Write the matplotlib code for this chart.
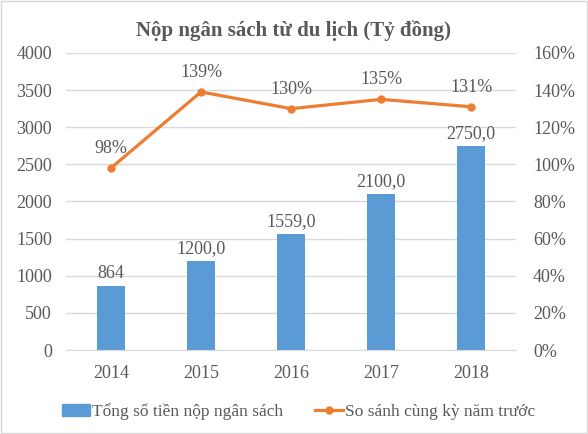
import matplotlib.pyplot as plt
from matplotlib.ticker import PercentFormatter

plt.rcParams['font.family'] = ['Liberation Serif', 'DejaVu Serif']

years = ['2014', '2015', '2016', '2017', '2018']
tong_tien = [864, 1200, 1559, 2100, 2750]
bar_labels = ['864', '1200,0', '1559,0', '2100,0', '2750,0']
so_sanh = [98, 139, 130, 135, 131]

text_col = '#595959'
blue = '#5B9BD5'
orange = '#ED7D31'

fig = plt.figure(figsize=(5.88, 4.34), dpi=100)
ax = fig.add_axes([0.112, 0.1935, 0.766, 0.6845])
ax2 = ax.twinx()

x = range(len(years))
bars = ax.bar(x, tong_tien, width=0.31, color=blue, zorder=2)
ax.bar_label(bars, labels=bar_labels, padding=3, fontsize=13, color=text_col)

ax2.plot(x, so_sanh, color=orange, lw=2.3, marker='o', ms=5, zorder=3)
for i, v in enumerate(so_sanh):
    ax2.annotate(f'{v}%', (i, v), xytext=(0, 8), textcoords='offset points',
                 ha='center', va='bottom', fontsize=13, color=text_col)

ax.set_xlim(-0.5, 4.5)
ax.set_ylim(0, 4000)
ax.set_yticks(range(0, 4001, 500))
ax2.set_ylim(0, 160)
ax2.set_yticks(range(0, 161, 20))
ax2.yaxis.set_major_formatter(PercentFormatter(decimals=0))
ax.set_xticks(list(x))
ax.set_xticklabels(years)

ax.grid(axis='y', color='#D9D9D9', lw=1, zorder=0)
for a in (ax, ax2):
    for s in a.spines.values():
        s.set_visible(False)
    a.tick_params(length=0, labelsize=13, colors=text_col)
ax.spines['bottom'].set_visible(True)
ax.spines['bottom'].set_color('#D9D9D9')
ax.tick_params(axis='y', pad=10)
ax2.tick_params(axis='y', pad=12)
ax.tick_params(axis='x', pad=11)

fig.suptitle('Nộp ngân sách từ du lịch (Tỷ đồng)', y=0.953, fontsize=15,
             fontweight='bold', color=text_col)

h1 = plt.Rectangle((0, 0), 1, 1, color=blue)
h2, = ax2.plot([], [], color=orange, lw=2.3, marker='o', ms=5)
fig.legend([h1, h2], ['Tổng số tiền nộp ngân sách', 'So sánh cùng kỳ năm trước'],
           loc='center', bbox_to_anchor=(0.508, 0.052), ncol=2, frameon=False,
           fontsize=12.5, labelcolor=text_col, handlelength=1.6, handletextpad=0.15,
           columnspacing=1.8)

fig.patches.append(plt.Rectangle((0.002, 0.002), 0.996, 0.996, transform=fig.transFigure,
                                 fill=False, edgecolor='#D9D9D9', lw=1))

fig.savefig('out.png', dpi=100)
